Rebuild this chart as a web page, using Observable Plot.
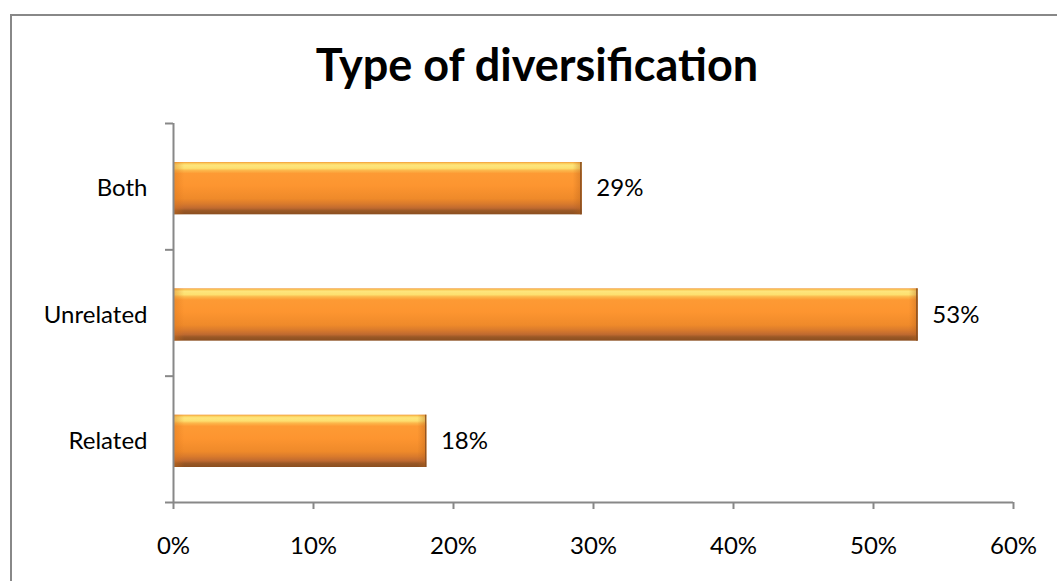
<!DOCTYPE html>
<html>
<head>
<meta charset="utf-8">
<script src="https://cdn.jsdelivr.net/npm/d3@7"></script>
<script src="https://cdn.jsdelivr.net/npm/@observablehq/plot@0.6"></script>
<style>
  html, body { margin: 0; padding: 0; background: #fff; }
  body { width: 1057px; height: 581px; position: relative; overflow: hidden; font-family: Lato, "Open Sans", sans-serif; }
  #frame { position: absolute; left: 10px; top: 14px; width: 1100px; height: 640px; border-left: 2px solid #888; border-top: 2px solid #888; box-sizing: border-box; }
  #title { position: absolute; left: 537px; top: 42px; transform: translateX(-50%); font: bold 45px Lato, sans-serif; line-height: 1; white-space: nowrap; color: #000; }
  #chart { position: absolute; left: 0; top: 100px; }
</style>
</head>
<body>
<div id="frame"></div>
<div id="title">Type of diversification</div>
<div id="chart"></div>
<script>
const categories = ["Related", "Unrelated", "Both"];
const values = [18.1, 53.2, 29.2];
const xTicks = [0, 10, 20, 30, 40, 50, 60];
const yBoundaries = [0, 1, 2, 3];

const data = categories.map((c, i) => ({category: c, value: values[i], lo: i, hi: i + 1, mid: i + 0.5}));

const barInsets = {insetTop: 39, insetBottom: 35};

const chart = Plot.plot({
  width: 1057,
  height: 481,
  marginTop: 23,
  marginBottom: 79,
  marginLeft: 173,
  marginRight: 44,
  style: {fontFamily: "Lato, sans-serif", fontSize: "24px", background: "transparent", overflow: "visible", color: "#000"},
  x: {domain: [0, 60], label: null},
  y: {domain: [0, 3], label: null},
  marks: [
    Plot.rect(data, {x1: 0, x2: "value", y1: "lo", y2: "hi", ...barInsets, fill: "url(#barGrad)"}),
    Plot.rect(data, {x1: 0, x2: d => Math.min(d.value, 0.8), y1: "lo", y2: "hi", ...barInsets, fill: "url(#bevelL)"}),
    Plot.rect(data, {x1: d => d.value - 0.65, x2: "value", y1: "lo", y2: "hi", ...barInsets, fill: "url(#bevelR)"}),
    Plot.ruleX([0], {stroke: "#888", strokeWidth: 2}),
    Plot.ruleY([0], {stroke: "#888", strokeWidth: 2}),
    Plot.axisY({ticks: yBoundaries, tickFormat: () => "", tickSize: 8, stroke: "#888", strokeWidth: 2, label: null}),
    Plot.axisY({ticks: data.map(d => d.mid), tickFormat: v => categories[Math.floor(v)], tickSize: 0, tickPadding: 26, fill: "#000", label: null, dy: 2}),
    Plot.axisX({ticks: xTicks, tickFormat: d => d + "%", tickSize: 7, tickPadding: 27, stroke: "#888", strokeWidth: 2, fill: "#000", label: null}),
    Plot.text(data, {x: "value", y: "mid", text: d => Math.round(d.value) + "%", dx: 14, dy: 2, textAnchor: "start", fill: "#000"})
  ]
});

const defs = d3.select(chart).insert("defs", ":first-child");
const g = defs.append("linearGradient").attr("id", "barGrad").attr("x1", 0).attr("y1", 0).attr("x2", 0).attr("y2", 1);
[
  [0, "#f39a3a"], [0.03, "#fbd05e"], [0.06, "#fee57c"], [0.12, "#fde070"], [0.16, "#fcb84c"],
  [0.22, "#fd9a34"], [0.45, "#fd9530"], [0.7, "#ef8a2a"], [0.8, "#d97a2c"], [0.88, "#c06a30"],
  [0.93, "#9a5826"], [1, "#8a4e1f"]
].forEach(([o, c]) => g.append("stop").attr("offset", o).attr("stop-color", c));
const gl = defs.append("linearGradient").attr("id", "bevelL").attr("x1", 0).attr("y1", 0).attr("x2", 1).attr("y2", 0);
gl.append("stop").attr("offset", 0).attr("stop-color", "#d9741c").attr("stop-opacity", 0.45);
gl.append("stop").attr("offset", 1).attr("stop-color", "#d9741c").attr("stop-opacity", 0);
const gr = defs.append("linearGradient").attr("id", "bevelR").attr("x1", 0).attr("y1", 0).attr("x2", 1).attr("y2", 0);
gr.append("stop").attr("offset", 0).attr("stop-color", "#b8621a").attr("stop-opacity", 0);
gr.append("stop").attr("offset", 0.8).attr("stop-color", "#b8621a").attr("stop-opacity", 0.35);
gr.append("stop").attr("offset", 0.85).attr("stop-color", "#8a4e1f").attr("stop-opacity", 0.9);
gr.append("stop").attr("offset", 1).attr("stop-color", "#8a4e1f").attr("stop-opacity", 0.9);

document.getElementById("chart").appendChild(chart);
</script>
</body>
</html>
